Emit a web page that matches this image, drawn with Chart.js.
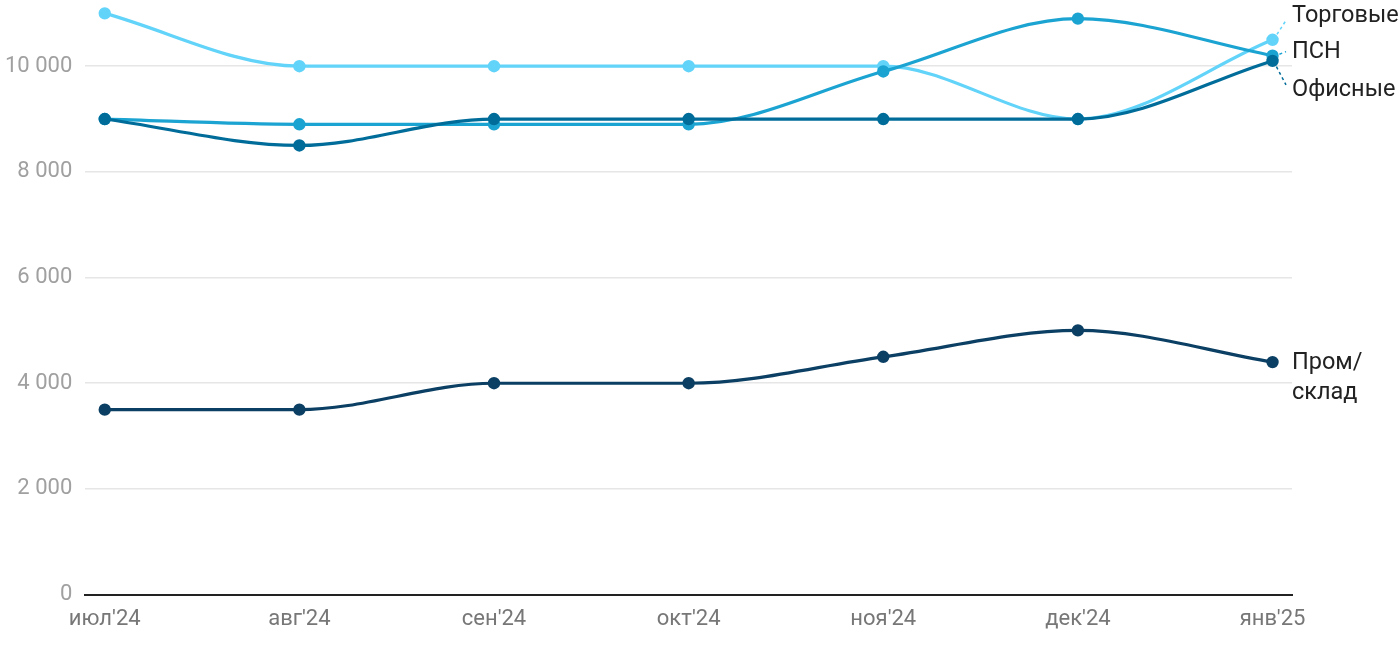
<!DOCTYPE html>
<html>
<head>
<meta charset="utf-8">
<script src="https://cdn.jsdelivr.net/npm/chart.js@4"></script>
<style>
  html, body { margin: 0; padding: 0; background: #fff; overflow: hidden; }
  #wrap { width: 1408px; height: 675px; position: relative; margin-left: -8px; margin-top: -25px; }
</style>
</head>
<body>
<div id="wrap"><canvas id="chart"></canvas></div>
<script>
// Data
var months = ["июл'24", "авг'24", "сен'24", "окт'24", "ноя'24", "дек'24", "янв'25"];
var torgovye = [11000, 10000, 10000, 10000, 10000, 9000, 10500];
var psn = [9000, 8900, 8900, 8900, 9900, 10900, 10200];
var ofisnye = [9000, 8500, 9000, 9000, 9000, 9000, 10100];
var prom = [3500, 3500, 4000, 4000, 4500, 5000, 4400];
var yTicks = [0, 2000, 4000, 6000, 8000, 10000];

// label text, vertical shift from last point, leader line
var endLabels = [
  { lines: ["Торговые"], dy: -24, leader: true },
  { lines: ["ПСН"], dy: -4, leader: true },
  { lines: ["Офисные"], dy: 29, leader: true },
  { lines: ["Пром/", "склад"], dy: 1, leader: false }
];

function pts(arr) {
  return arr.map(function (v, i) { return { x: i, y: v }; });
}

function ds(label, arr, color, order) {
  return {
    label: label,
    data: pts(arr),
    order: order,
    borderColor: color,
    backgroundColor: color,
    borderWidth: 3.2,
    pointRadius: 4.6,
    pointHoverRadius: 4.6,
    cubicInterpolationMode: 'monotone',
    fill: false,
    clip: false
  };
}

// draws the names at the right end of each line
var endLabelPlugin = {
  id: 'endLabels',
  afterDatasetsDraw: function (chart) {
    var ctx = chart.ctx;
    var xs = chart.scales.x, ys = chart.scales.y;
    ctx.save();
    ctx.font = '23.5px Roboto';
    ctx.textBaseline = 'middle';
    ctx.textAlign = 'left';
    chart.data.datasets.forEach(function (d, i) {
      var last = d.data[d.data.length - 1];
      var px = xs.getPixelForValue(last.x);
      var py = ys.getPixelForValue(last.y);
      var lab = endLabels[i];
      var ty = py + lab.dy;
      var tx = chart.chartArea.right;
      if (lab.leader) {
        ctx.strokeStyle = d.borderColor;
        ctx.lineWidth = 1.5;
        ctx.setLineDash([3, 3]);
        ctx.beginPath();
        var dx = tx - px, dyy = ty - py;
        var len = Math.sqrt(dx * dx + dyy * dyy);
        ctx.moveTo(px + dx / len * 7, py + dyy / len * 7);
        ctx.lineTo(tx - 6, ty - dyy / len * 6 * (Math.abs(dyy) > 5 ? 1 : 0));
        ctx.stroke();
        ctx.setLineDash([]);
      }
      ctx.fillStyle = '#222';
      lab.lines.forEach(function (t, k) {
        ctx.fillText(t, tx, ty + k * 30);
      });
    });
    ctx.restore();
  }
};

new Chart(document.getElementById('chart'), {
  type: 'line',
  data: {
    datasets: [
      ds('Торговые', torgovye, '#62d3f9', 3),
      ds('ПСН', psn, '#1ba3d1', 2),
      ds('Офисные', ofisnye, '#006c99', 1),
      ds('Пром/склад', prom, '#0b3f63', 0)
    ]
  },
  options: {
    responsive: true,
    maintainAspectRatio: false,
    animation: false,
    layout: { padding: { top: 0, right: 108, bottom: 5, left: 0 } },
    plugins: {
      legend: { display: false },
      tooltip: { enabled: false }
    },
    scales: {
      x: {
        type: 'linear',
        min: -0.1,
        max: 6.1,
        afterBuildTicks: function (axis) {
          axis.ticks = months.map(function (m, i) { return { value: i }; });
        },
        grid: { display: false, drawTicks: false },
        border: { display: true, color: '#222', width: 2 },
        ticks: {
          padding: 12,
          maxRotation: 0,
          autoSkip: false,
          color: '#777',
          font: { family: 'Roboto', size: 22 },
          callback: function (v) { return months[v]; }
        }
      },
      y: {
        min: 0,
        max: 11230,
        afterBuildTicks: function (axis) {
          axis.ticks = yTicks.map(function (v) { return { value: v }; });
        },
        grid: { color: '#e6e6e6', lineWidth: 1.5, drawTicks: false },
        border: { display: false },
        ticks: {
          padding: 13,
          color: '#a0a0a0',
          font: { family: 'Roboto', size: 22 },
          callback: function (v) { return v.toLocaleString('ru-RU').replace(/\s/g, ' '); }
        }
      }
    }
  },
  plugins: [endLabelPlugin]
});
</script>
</body>
</html>
